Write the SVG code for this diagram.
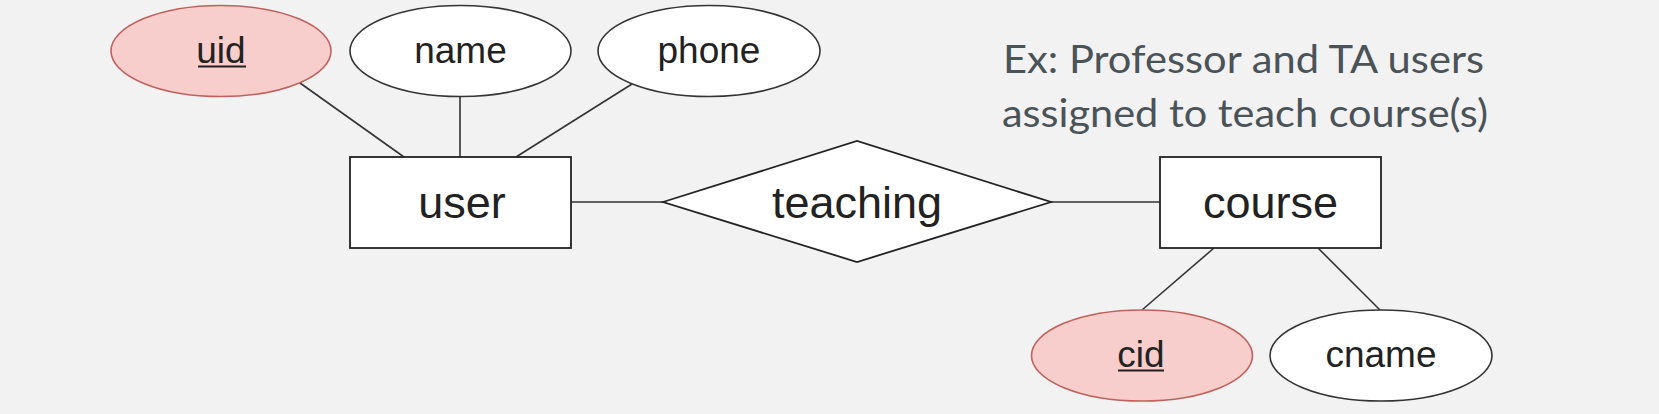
<svg xmlns="http://www.w3.org/2000/svg" width="1659" height="414" viewBox="0 0 1659 414">
<style>
.attr{fill:#ffffff;stroke:#333333;stroke-width:1.6}
.key{fill:#f8cecc;stroke:#c0605c;stroke-width:1.6}
.ent{fill:#ffffff;stroke:#222222;stroke-width:1.8}
.lbl{font-family:"Liberation Sans",Arial,sans-serif;fill:#222222;text-anchor:middle}
.a{font-size:37px}
.e{font-size:45px}
.conn line{stroke:#333333;stroke-width:1.6}
.note{font-family:Lato,"Open Sans",sans-serif;font-size:38px;fill:#4a5358}
</style>
<rect width="1659" height="414" fill="#f2f2f2"/>
<g class="conn" id="connectors">
<line x1="300" y1="83" x2="404" y2="157"/>
<line x1="460" y1="97" x2="460" y2="157"/>
<line x1="632" y1="84" x2="516" y2="157"/>
<line x1="571" y1="202" x2="663" y2="202"/>
<line x1="1051" y1="202" x2="1160" y2="202"/>
<line x1="1214" y1="248" x2="1142" y2="310"/>
<line x1="1318" y1="248" x2="1380" y2="310"/>
</g>
<g id="uid">
<ellipse class="key" cx="221" cy="51" rx="110" ry="45.5"/>
<text class="lbl a" x="221" y="63">uid</text>
<line x1="198" y1="66.5" x2="246" y2="66.5" stroke="#222222" stroke-width="2.2"/>
</g>
<g id="name">
<ellipse class="attr" cx="460.5" cy="51" rx="110.5" ry="45.5"/>
<text class="lbl a" x="460.5" y="63">name</text>
</g>
<g id="phone">
<ellipse class="attr" cx="709" cy="51" rx="111" ry="45.5"/>
<text class="lbl a" x="709" y="63">phone</text>
</g>
<g id="user">
<rect class="ent" x="350" y="157" width="221" height="91"/>
<text class="lbl e" x="462" y="218">user</text>
</g>
<g id="teaching">
<polygon class="ent" points="663,202 857,141 1051,202 857,262"/>
<text class="lbl e" x="857" y="218">teaching</text>
</g>
<g id="course">
<rect class="ent" x="1160" y="157" width="221" height="91"/>
<text class="lbl e" x="1270.5" y="218">course</text>
</g>
<g id="cid">
<ellipse class="key" cx="1142" cy="355.5" rx="110.5" ry="45.5"/>
<text class="lbl a" x="1141" y="367">cid</text>
<line x1="1118" y1="370.5" x2="1164" y2="370.5" stroke="#222222" stroke-width="2.2"/>
</g>
<g id="cname">
<ellipse class="attr" cx="1381" cy="355.5" rx="111" ry="45.5"/>
<text class="lbl a" x="1381" y="367">cname</text>
</g>
<g id="note">
<text class="note" x="1003" y="73" textLength="481" lengthAdjust="spacingAndGlyphs">Ex: Professor and TA users</text>
<text class="note" x="1002" y="127" textLength="486" lengthAdjust="spacingAndGlyphs">assigned to teach course(s)</text>
</g>
</svg>
